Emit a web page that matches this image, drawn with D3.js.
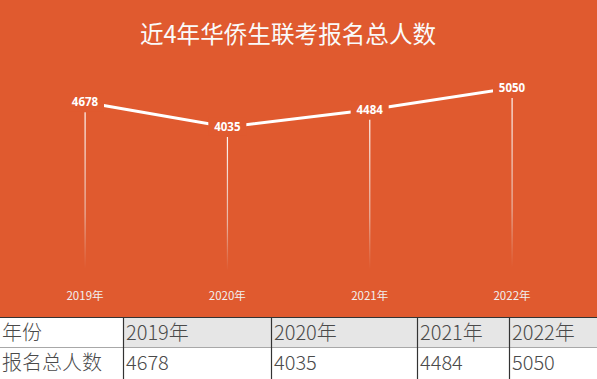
<!DOCTYPE html>
<html><head><meta charset="utf-8">
<script src="https://cdn.jsdelivr.net/npm/d3@7/dist/d3.min.js"></script>
<style>
html,body{margin:0;padding:0;background:#fff;}
svg{display:block;}
</style></head>
<body>
<svg id="chart" width="597" height="379"></svg>
<script>
const title = "近4年华侨生联考报名总人数";
const years = ["2019年", "2020年", "2021年", "2022年"];
const values = [4678, 4035, 4484, 5050];
const rowHeaders = ["年份", "报名总人数"];

const W = 597, H = 379;
const orange = "#E05A2F";
const svg = d3.select("#chart");
const cjk = "'Noto Sans CJK SC','Noto Sans',sans-serif";

const chartBottom = 317;
svg.append("rect").attr("x",0).attr("y",0).attr("width",W).attr("height",chartBottom).attr("fill",orange);

svg.append("text").attr("x",288).attr("y",43).attr("text-anchor","middle")
  .attr("fill","#fafafa").attr("font-family",cjk).attr("font-size",23.6).text(title);

const x = d3.scalePoint().domain(years).range([85, 512]);
const y = d3.scaleLinear().domain([0, 5050]).range([282, 88]);

const defs = svg.append("defs");
const grad = defs.append("linearGradient").attr("id","drop").attr("x1",0).attr("y1",0).attr("x2",0).attr("y2",1);
grad.append("stop").attr("offset","0%").attr("stop-color","#fff").attr("stop-opacity",0.95);
grad.append("stop").attr("offset","60%").attr("stop-color","#eee").attr("stop-opacity",0.6);
grad.append("stop").attr("offset","92%").attr("stop-color","#ddd").attr("stop-opacity",0);

const data = years.map((yr,i)=>({yr, v: values[i]}));

svg.selectAll("rect.drop").data(data).join("rect").attr("class","drop")
  .attr("x", d=>x(d.yr)-0.5).attr("width",1.2)
  .attr("y", d=>y(d.v)+10).attr("height", d=>y(0)-(y(d.v)+10))
  .attr("fill","url(#drop)");

svg.append("path").datum(data)
  .attr("d", d3.line().x(d=>x(d.yr)).y(d=>y(d.v)))
  .attr("fill","none").attr("stroke","#fff").attr("stroke-width",3);

const lab = svg.selectAll("g.lab").data(data).join("g").attr("class","lab")
  .attr("transform", d=>`translate(${x(d.yr)},${y(d.v)})`);
lab.append("rect").attr("x",-19).attr("y",-9).attr("width",38).attr("height",18).attr("fill",orange);
lab.append("text").attr("text-anchor","middle").attr("dy","0.36em")
  .attr("fill","#fff").attr("font-family","'Open Sans',sans-serif").attr("font-weight","bold")
  .attr("font-size",11.5).text(d=>d.v);

svg.selectAll("text.xl").data(years).join("text").attr("class","xl")
  .attr("x", d=>x(d)).attr("y",300).attr("text-anchor","middle")
  .attr("fill","#f0f0f0").attr("font-family",cjk).attr("font-size",11.5).text(d=>d);

const colX = [0, 123, 271, 417, 509, W];
const rowY = [317, 347, 379];
const tbl = svg.append("g");
for (let c=1;c<5;c++){
  tbl.append("rect").attr("x",colX[c]).attr("y",rowY[0]).attr("width",colX[c+1]-colX[c]).attr("height",rowY[1]-rowY[0]).attr("fill","#E6E6E6");
}
tbl.append("line").attr("x1",0).attr("x2",W).attr("y1",rowY[1]+0.5).attr("y2",rowY[1]+0.5).attr("stroke","#a8a8a8").attr("stroke-width",1);
tbl.append("line").attr("x1",0).attr("x2",W).attr("y1",rowY[0]+0.5).attr("y2",rowY[0]+0.5).attr("stroke","#333").attr("stroke-width",1.2);
for (let c=1;c<5;c++){
  tbl.append("line").attr("x1",colX[c]+0.5).attr("x2",colX[c]+0.5).attr("y1",rowY[0]).attr("y2",H).attr("stroke","#333").attr("stroke-width",1.2);
}
const rows = [[rowHeaders[0], ...years],[rowHeaders[1], ...values.map(String)]];
rows.forEach((r,ri)=>{
  r.forEach((t,ci)=>{
    tbl.append("text").attr("x",colX[ci]+ (ci===0?2:3)).attr("y",rowY[ri]+23)
      .attr("fill","#4a4a4a").attr("font-family",cjk).attr("font-weight",300).attr("font-size",20).text(t);
  });
});
</script>
</body></html>
